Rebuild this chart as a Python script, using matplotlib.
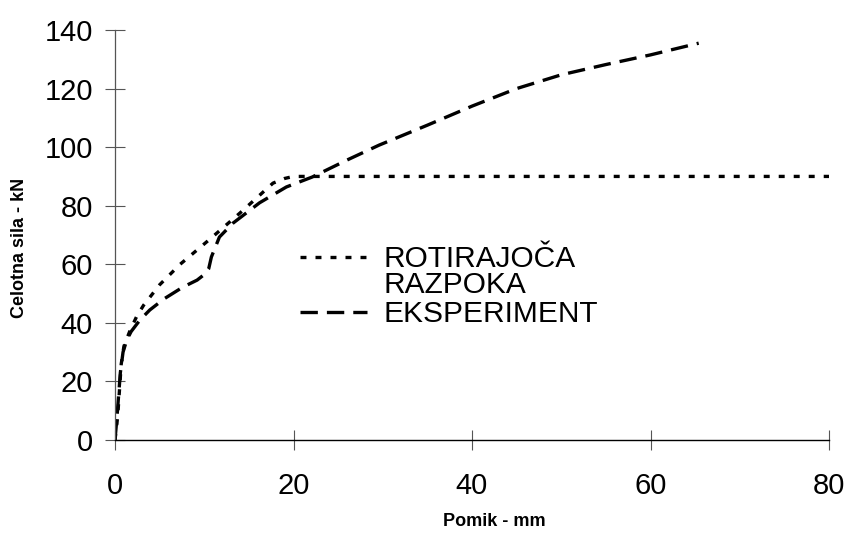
import matplotlib
matplotlib.use("Agg")
import matplotlib.pyplot as plt
from matplotlib.lines import Line2D

plt.rcParams["font.family"] = ["Liberation Sans", "DejaVu Sans"]
plt.rcParams["lines.scale_dashes"] = False

# pomik [mm] / sila [kN]
rot_x = [0, 0.3, 0.5, 0.7, 1.0, 1.7, 2.4, 3.2, 5.0, 7.3, 10.6, 14.0, 17.7, 19.0, 20.0, 80.0]
rot_y = [0, 8, 17, 26, 32, 37.5, 42.0, 46.0, 53.0, 60.0, 68.5, 77.5, 87.7, 89.3, 90, 90]

exp_x = [0, 0.2, 0.4, 0.6, 0.9, 1.3, 1.8, 2.8, 3.9, 5.5, 7.6, 9.2, 10.0, 10.5, 10.8,
         11.7, 13.2, 16.2, 19.2, 22.1, 26.0, 29.6, 35.0, 40.0, 45.0, 50.0, 55.0, 60.0, 65.4]
exp_y = [0, 7, 15, 23, 30, 34, 37, 41, 44.4, 48.2, 52.2, 54.6, 56.5, 58.5, 62.5,
         69.3, 74, 81, 86.4, 89.8, 95.6, 100.7, 107.5, 114, 120, 124.7, 128.2, 131.5, 135.5]

x_ticks = [0, 20, 40, 60, 80]
y_ticks = [0, 20, 40, 60, 80, 100, 120, 140]

W, H = 847, 535
X0, X1 = 115, 829
fig = plt.figure(figsize=(W / 100, H / 100), dpi=100)
ax = fig.add_axes([X0 / W, 1 - 440 / H, (X1 - X0) / W, (440 - 30) / H])

dot_style = dict(color="black", lw=2.4, dashes=(4.3, 6.5), dash_capstyle="butt")
dash_style = dict(color="black", lw=2.4, dashes=(12.5, 6.5), dash_capstyle="butt")

ax.plot(rot_x, rot_y, **dot_style)
ax.plot(exp_x, exp_y, **dash_style)

ax.set_xlim(0, 80)
ax.set_ylim(0, 140)
ax.set_xticks(x_ticks)
ax.set_yticks(y_ticks)
ax.tick_params(direction="inout", length=14, width=0.8, color="#555555",
               labelsize=21, labelcolor="black")
ax.tick_params(axis="x", pad=16)
ax.tick_params(axis="y", pad=9)
for side in ["top", "right"]:
    ax.spines[side].set_visible(False)
ax.spines["left"].set_color("#555555")
ax.spines["bottom"].set_color("black")
ax.spines["left"].set_linewidth(0.9)
ax.spines["bottom"].set_linewidth(1.0)

# legenda
span = X1 - X0
hx0, hx1 = (300 - X0) / span, (367 - X0) / span
tx = (383 - X0) / span
ax.add_line(Line2D([hx0, hx1], [0.4463, 0.4463], transform=ax.transAxes, **dot_style))
ax.add_line(Line2D([hx0, hx1], [0.3122, 0.3122], transform=ax.transAxes, **dash_style))
ax.text(tx, 0.4220, "ROTIRAJOČA", transform=ax.transAxes, fontsize=21.5, va="baseline")
ax.text(tx, 0.3585, "RAZPOKA", transform=ax.transAxes, fontsize=21.5, va="baseline")
ax.text(tx, 0.2878, "EKSPERIMENT", transform=ax.transAxes, fontsize=21.5, va="baseline")

fig.text(494 / W, 1 - 521 / H, "Pomik - mm", fontsize=13, fontweight="bold",
         ha="center", va="center")
fig.text(20 / W, 1 - 248 / H, "Celotna sila - kN", fontsize=13, fontweight="bold",
         ha="center", va="center", rotation=90)

fig.savefig("out.png", dpi=100)
